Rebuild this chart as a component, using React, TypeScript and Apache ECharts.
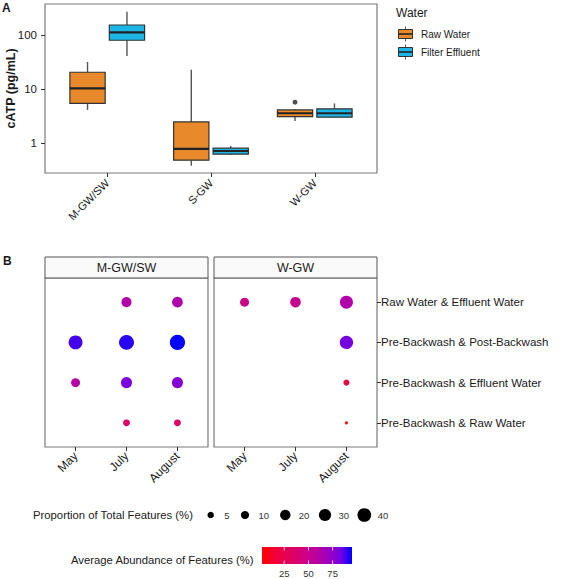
import React, { useEffect, useRef } from "react";
import * as echarts from "echarts";

// ---------- Panel A data ----------
const sites = ["M-GW/SW", "S-GW", "W-GW"];
// [min, Q1, median, Q3, max]  (pg/mL)
const rawWater = [
  [4.1, 5.4, 10.3, 20.4, 31.6],
  [0.38, 0.48, 0.78, 2.45, 22.8],
  [2.55, 3.07, 3.55, 4.1, 4.2],
];
const filterEffluent = [
  [41, 80, 112, 153, 270],
  [0.6, 0.62, 0.71, 0.8, 0.88],
  [2.95, 3.0, 3.55, 4.3, 5.4],
];
// [siteIndex, value]
const rawOutliers = [[2, 5.7]];
const yTicksA = [1, 10, 100];

// ---------- Panel B data ----------
const months = ["May", "July", "August"];
const comparisons = [
  "Raw Water & Effluent Water",
  "Pre-Backwash & Post-Backwash",
  "Pre-Backwash & Effluent Water",
  "Pre-Backwash & Raw Water",
];
const facets = ["M-GW/SW", "W-GW"];
// [monthIndex, comparisonIndex, proportion of total features %, average abundance %]
const mgwPoints = [
  [1, 0, 18, 62],
  [2, 0, 21, 64],
  [0, 1, 42, 88],
  [1, 1, 50, 91],
  [2, 1, 52, 95],
  [0, 2, 13, 60],
  [1, 2, 23, 81],
  [2, 2, 23, 78],
  [1, 3, 6, 36],
  [2, 3, 6, 36],
];
const wgwPoints = [
  [0, 0, 13, 48],
  [1, 0, 20, 51],
  [2, 0, 35, 62],
  [2, 1, 37, 83],
  [2, 2, 4, 20],
  [2, 3, 1, 2],
];
const sizeBreaks = [5, 10, 20, 30, 40];
const colorBreaks = [25, 50, 75];

const ORANGE = "#E8892B";
const CYAN = "#1CB6E6";
const FONT = "Liberation Sans, Arial, sans-serif";
const GRADIENT = ["#FF0000", "#F40031", "#E8004F", "#DA006C", "#CA0089", "#B500A5", "#9A00C3", "#7300E1", "#0000FF"];

const allPts = [...mgwPoints, ...wgwPoints];
const pMin = Math.min(...allPts.map((p) => p[2]));
const pMax = Math.max(...allPts.map((p) => p[2]));
const cMin = Math.min(...allPts.map((p) => p[3]));
const cMax = Math.max(...allPts.map((p) => p[3]));
const dotSize = (v: number) => 3.1 + 12.1 * Math.sqrt(Math.max(0, v - pMin) / (pMax - pMin));

const DODGE = 0.19;
const BOX_W = 0.34;

const boxRender = (offset: number, color: string) => (params: any, api: any) => {
  const x = api.value(0) + offset;
  const lo = api.coord([x, api.value(1)]);
  const q1 = api.coord([x, api.value(2)]);
  const md = api.coord([x, api.value(3)]);
  const q3 = api.coord([x, api.value(4)]);
  const hi = api.coord([x, api.value(5)]);
  const left = api.coord([x - BOX_W / 2, api.value(3)])[0];
  const right = api.coord([x + BOX_W / 2, api.value(3)])[0];
  const wStyle = { stroke: "#555", lineWidth: 1.4 };
  return {
    type: "group",
    children: [
      { type: "line", shape: { x1: lo[0], y1: lo[1], x2: q1[0], y2: q1[1] }, style: wStyle },
      { type: "line", shape: { x1: q3[0], y1: q3[1], x2: hi[0], y2: hi[1] }, style: wStyle },
      {
        type: "rect",
        shape: { x: left, y: q3[1], width: right - left, height: q1[1] - q3[1] },
        style: { fill: color, stroke: "#333", lineWidth: 1.2 },
      },
      { type: "line", shape: { x1: left, y1: md[1], x2: right, y2: md[1] }, style: { stroke: "#222", lineWidth: 2.2 } },
    ],
  };
};

const dotRender = (params: any, api: any) => {
  const c = api.coord([api.value(0), api.value(1)]);
  return {
    type: "circle",
    shape: { cx: c[0], cy: c[1], r: dotSize(api.value(2)) / 2 },
    style: { fill: api.visual("color") },
  };
};

function buildOption() {
  const text = (str: string, x: number, y: number, size: number, opts: any = {}) => ({
    type: "text",
    x,
    y,
    rotation: opts.rotation || 0,
    silent: true,
    style: {
      text: str,
      font: `${opts.bold ? "bold " : ""}${size}px ${FONT}`,
      fill: opts.color || "#1a1a1a",
      textAlign: opts.align || "left",
      textVerticalAlign: "middle",
      verticalAlign: "middle",
    },
  });

  const graphics: any[] = [];
  graphics.push(text("A", 2, 8, 12, { bold: true }));
  graphics.push(text("B", 3, 261, 12, { bold: true }));
  graphics.push(text("cATP (pg/mL)", 10.5, 88.5, 12.5, { bold: true, align: "center", rotation: Math.PI / 2 }));

  // Legend A
  graphics.push(text("Water", 396, 13, 12));
  [ORANGE, CYAN].forEach((c, i) => {
    const cy = 34 + i * 18;
    graphics.push({ type: "line", silent: true, shape: { x1: 405.5, y1: cy - 7.5, x2: 405.5, y2: cy + 7.5 }, style: { stroke: "#555", lineWidth: 1 } });
    graphics.push({ type: "rect", silent: true, shape: { x: 398.5, y: cy - 4.5, width: 14, height: 9 }, style: { fill: c, stroke: "#333", lineWidth: 1 } });
    graphics.push({ type: "line", silent: true, shape: { x1: 398.5, y1: cy, x2: 412.5, y2: cy }, style: { stroke: "#222", lineWidth: 1.6 } });
    graphics.push(text(i === 0 ? "Raw Water" : "Filter Effluent", 421, cy, 10));
  });

  // Facet strips
  const stripX = [45, 214];
  facets.forEach((f, i) => {
    graphics.push({
      type: "rect",
      silent: true,
      shape: { x: stripX[i], y: 257, width: 163, height: 21 },
      style: { fill: "#FAFAFA", stroke: "#555", lineWidth: 1 },
    });
    graphics.push(text(f, stripX[i] + 81.5, 267.5, 12.5, { align: "center" }));
  });

  // Size legend
  graphics.push(text("Proportion of Total Features (%)", 33, 515, 11.3));
  const sizeX = [210.7, 245, 285.3, 325, 364.3];
  sizeBreaks.forEach((b, i) => {
    graphics.push({ type: "circle", silent: true, shape: { cx: sizeX[i], cy: 515, r: dotSize(b) / 2 }, style: { fill: "#000" } });
    graphics.push(text(String(b), sizeX[i] + 13.5, 515, 9.5, { color: "#333" }));
  });

  // Colour bar legend
  graphics.push(text("Average Abundance of Features (%)", 71, 560, 11.3));
  const barX = 262, barY = 547, barW = 90, barH = 17;
  graphics.push({
    type: "rect",
    silent: true,
    shape: { x: barX, y: barY, width: barW, height: barH },
    style: {
      fill: new echarts.graphic.LinearGradient(
        0, 0, 1, 0,
        GRADIENT.map((c, i) => ({ offset: i / (GRADIENT.length - 1), color: c }))
      ),
    },
  });
  colorBreaks.forEach((b) => {
    const tx = barX + ((b - cMin) / (cMax - cMin)) * barW;
    graphics.push({ type: "line", silent: true, shape: { x1: tx, y1: barY, x2: tx, y2: barY + 3.5 }, style: { stroke: "#fff", lineWidth: 0.8 } });
    graphics.push({ type: "line", silent: true, shape: { x1: tx, y1: barY + barH - 3.5, x2: tx, y2: barY + barH }, style: { stroke: "#fff", lineWidth: 0.8 } });
    graphics.push(text(String(b), tx, 573, 9.5, { align: "center", color: "#333" }));
  });

  const gridBorder = { show: true, borderColor: "#7a7a7a", borderWidth: 1.2, backgroundColor: "transparent", containLabel: false, outerBoundsMode: "none" };

  const catXAxis = (gridIndex: number, names: string[], size: number, margin: number) => ({
    type: "value",
    gridIndex,
    min: 0.4,
    max: 3.6,
    position: "bottom",
    axisLine: { show: false, onZero: false },
    splitLine: { show: false },
    axisPointer: { show: false },
    axisTick: { show: true, customValues: [1, 2, 3], length: 4, lineStyle: { color: "#333" } },
    axisLabel: {
      customValues: [1, 2, 3],
      formatter: (v: number) => names[Math.round(v) - 1] ?? "",
      rotate: 45,
      fontSize: size,
      fontFamily: FONT,
      color: "#1a1a1a",
      margin,
    },
  });

  const rowYAxis = (gridIndex: number, showLabels: boolean) => ({
    type: "value",
    gridIndex,
    inverse: true,
    min: -0.6,
    max: 3.6,
    position: "right",
    show: showLabels,
    axisLine: { show: false, onZero: false },
    splitLine: { show: false },
    axisTick: { show: showLabels, customValues: [0, 1, 2, 3], length: 4, lineStyle: { color: "#333" } },
    axisLabel: {
      show: showLabels,
      customValues: [0, 1, 2, 3],
      formatter: (v: number) => comparisons[Math.round(v)] ?? "",
      fontSize: 11.5,
      fontFamily: FONT,
      color: "#1a1a1a",
      margin: 4,
    },
  });

  const panelSeries = (idx: number, pts: number[][]) => ({
    type: "custom",
    id: "panel" + idx,
    name: facets[idx - 1],
    coordinateSystem: "cartesian2d",
    xAxisIndex: idx,
    yAxisIndex: idx,
    renderItem: dotRender,
    encode: { x: 0, y: 1 },
    data: pts.map((p) => [p[0] + 1, p[1], p[2], p[3]]),
  });

  return {
    animation: false,
    backgroundColor: "#fff",
    grid: [
      { left: 45, top: 4, width: 332, height: 169, ...gridBorder },
      { left: 45, top: 278, width: 163, height: 169, ...gridBorder },
      { left: 214, top: 278, width: 163, height: 169, ...gridBorder },
    ],
    xAxis: [catXAxis(0, sites, 11, 8), catXAxis(1, months, 12, 7), catXAxis(2, months, 12, 7)],
    yAxis: [
      {
        type: "log",
        logBase: 10,
        gridIndex: 0,
        min: 0.278,
        max: 375,
        axisLine: { show: false, onZero: false },
        splitLine: { show: false },
        axisTick: { show: true, customValues: yTicksA, length: 4, lineStyle: { color: "#333" } },
        axisLabel: {
          customValues: yTicksA,
          formatter: (v: number) => String(Math.round(v)),
          fontSize: 11.5,
          fontFamily: FONT,
          color: "#1a1a1a",
          margin: 8,
        },
      },
      rowYAxis(1, false),
      rowYAxis(2, true),
    ],
    visualMap: {
      show: false,
      type: "continuous",
      min: cMin,
      max: cMax,
      dimension: 3,
      seriesId: ["panel1", "panel2"],
      inRange: { color: GRADIENT },
    },
    graphic: graphics,
    series: [
      {
        type: "custom",
        name: "Raw Water",
        xAxisIndex: 0,
        yAxisIndex: 0,
        renderItem: boxRender(-DODGE, ORANGE),
        encode: { x: 0, y: [1, 2, 3, 4, 5] },
        data: rawWater.map((r, i) => [i + 1, ...r]),
      },
      {
        type: "custom",
        name: "Filter Effluent",
        xAxisIndex: 0,
        yAxisIndex: 0,
        renderItem: boxRender(DODGE, CYAN),
        encode: { x: 0, y: [1, 2, 3, 4, 5] },
        data: filterEffluent.map((r, i) => [i + 1, ...r]),
      },
      {
        type: "scatter",
        xAxisIndex: 0,
        yAxisIndex: 0,
        symbol: "circle",
        symbolSize: 5,
        itemStyle: { color: "#222" },
        data: rawOutliers.map(([i, v]) => [i + 1 - DODGE, v]),
      },
      panelSeries(1, mgwPoints),
      panelSeries(2, wgwPoints),
    ],
  };
}

export default function App() {
  const ref = useRef<HTMLDivElement>(null);
  useEffect(() => {
    if (!ref.current) return;
    const chart = echarts.init(ref.current, null, { renderer: "svg" });
    chart.setOption(buildOption() as any);
    return () => chart.dispose();
  }, []);
  return <div ref={ref} style={{ width: 567, height: 579, position: "absolute", left: 0, top: 0, background: "#fff" }} />;
}
